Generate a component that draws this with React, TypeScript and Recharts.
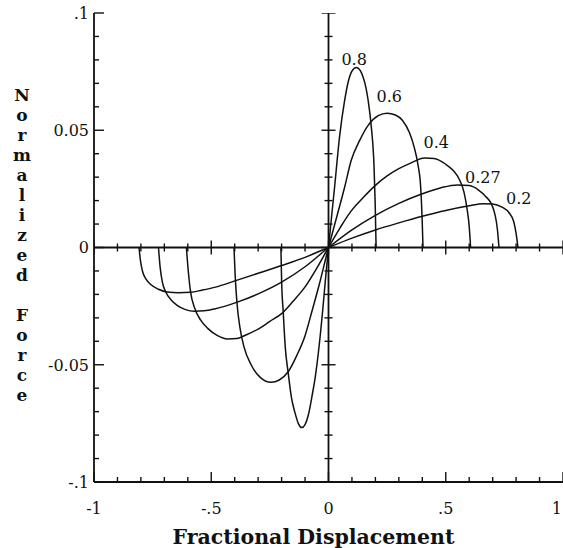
import React from 'react';
import {
  ComposedChart,
  Line,
  XAxis,
  YAxis,
  ReferenceLine,
  ReferenceDot,
  Scatter,
  Label,
} from 'recharts';

// ---------- data ----------
const seriesNames = ['0.8', '0.6', '0.4', '0.27', '0.2'];

const curve08: [number, number][] = [
  [-0.203, 0], [-0.2, -0.014], [-0.193, -0.0276], [-0.184, -0.043], [-0.172, -0.0533],
  [-0.158, -0.064], [-0.143, -0.0704], [-0.128, -0.0752], [-0.114, -0.0768], [-0.1, -0.0755],
  [-0.085, -0.071], [-0.07, -0.0632], [-0.057, -0.0556], [-0.04, -0.042], [-0.024, -0.026],
  [-0.012, -0.0125], [0, 0],
  [0.013, 0.013], [0.026, 0.0258], [0.047, 0.0471], [0.069, 0.0628], [0.085, 0.071],
  [0.1, 0.0752], [0.119, 0.0768], [0.135, 0.0755], [0.147, 0.0728], [0.16, 0.068],
  [0.169, 0.0628], [0.183, 0.051], [0.194, 0.035], [0.199, 0.019], [0.203, 0],
];

const curve06: [number, number][] = [
  [-0.403, 0], [-0.398, -0.012], [-0.39, -0.024], [-0.378, -0.034], [-0.36, -0.0425],
  [-0.33, -0.05], [-0.29, -0.0555], [-0.245, -0.0575], [-0.21, -0.0565], [-0.172, -0.053],
  [-0.135, -0.046], [-0.1, -0.0376], [-0.07, -0.027], [-0.04, -0.016], [0, 0],
  [0.035, 0.013], [0.069, 0.0258], [0.097, 0.0372], [0.133, 0.0457], [0.169, 0.0521],
  [0.212, 0.0562], [0.25, 0.0573], [0.285, 0.0565], [0.315, 0.0543], [0.345, 0.049],
  [0.365, 0.0429], [0.382, 0.035], [0.393, 0.0258], [0.399, 0.013], [0.403, 0],
];

const curve04: [number, number][] = [
  [-0.606, 0], [-0.598, -0.01], [-0.588, -0.019], [-0.572, -0.0255], [-0.545, -0.031],
  [-0.515, -0.0345], [-0.475, -0.0375], [-0.43, -0.039], [-0.39, -0.0388], [-0.35, -0.0372],
  [-0.3, -0.0348], [-0.25, -0.0315], [-0.2, -0.0282], [-0.15, -0.0228], [-0.1, -0.0168],
  [-0.05, -0.0088], [0, 0],
  [0.05, 0.0085], [0.093, 0.0151], [0.15, 0.0215], [0.2, 0.0265], [0.25, 0.0305],
  [0.3, 0.0336], [0.35, 0.036], [0.41, 0.0382], [0.45, 0.038], [0.5, 0.0355],
  [0.53, 0.033], [0.558, 0.029], [0.578, 0.0235], [0.59, 0.017], [0.6, 0.009], [0.606, 0],
];

const curve027: [number, number][] = [
  [-0.725, 0], [-0.718, -0.0084], [-0.708, -0.015], [-0.694, -0.019], [-0.67, -0.0225],
  [-0.644, -0.0248], [-0.61, -0.0265], [-0.572, -0.0272], [-0.53, -0.027], [-0.486, -0.0262],
  [-0.44, -0.025], [-0.386, -0.0232], [-0.3, -0.0198], [-0.2, -0.0148], [-0.1, -0.0082], [0, 0],
  [0.1, 0.0075], [0.2, 0.0137], [0.3, 0.0188], [0.4, 0.0229], [0.48, 0.0255],
  [0.55, 0.0267], [0.6, 0.0264], [0.64, 0.0245], [0.67, 0.0218], [0.694, 0.0187],
  [0.71, 0.014], [0.72, 0.008], [0.727, 0],
];

const curve02: [number, number][] = [
  [-0.808, 0], [-0.802, -0.0055], [-0.794, -0.0098], [-0.778, -0.0135], [-0.758, -0.0158],
  [-0.725, -0.0178], [-0.687, -0.019], [-0.64, -0.0193], [-0.587, -0.0191], [-0.54, -0.0182],
  [-0.486, -0.017], [-0.386, -0.0138], [-0.3, -0.011], [-0.2, -0.0077], [-0.1, -0.0042], [0, 0],
  [0.1, 0.004], [0.2, 0.0075], [0.3, 0.0105], [0.4, 0.0133], [0.5, 0.0158],
  [0.6, 0.0178], [0.66, 0.0187], [0.7, 0.0186], [0.74, 0.0172], [0.77, 0.0148],
  [0.79, 0.011], [0.8, 0.006], [0.808, 0],
];

// label anchor positions (data units) for each curve name
const curveLabelX = [0.055, 0.205, 0.405, 0.582, 0.757];
const curveLabelY = [0.0778, 0.062, 0.0423, 0.0274, 0.0184];

const xTicks = [
  -1, -0.9, -0.8, -0.7, -0.6, -0.5, -0.4, -0.3, -0.2, -0.1, 0,
  0.1, 0.2, 0.3, 0.4, 0.5, 0.6, 0.7, 0.8, 0.9, 1,
];
const xMajorTicks = [-1, -0.5, 0, 0.5, 1];
const xTickLabels = ['-1', '-.5', '0', '.5', '1'];

const yTicks = [
  -0.1, -0.09, -0.08, -0.07, -0.06, -0.05, -0.04, -0.03, -0.02, -0.01, 0,
  0.01, 0.02, 0.03, 0.04, 0.05, 0.06, 0.07, 0.08, 0.09, 0.1,
];
const yMajorTicks = [-0.1, -0.05, 0, 0.05, 0.1];
const yTickLabels = ['-.1', '-0.05', '0', '0.05', '.1'];

const xTitle = 'Fractional Displacement';
const yTitle = 'Normalized Force';

// ---------- helpers ----------
const INK = '#111';
const FONT = '"DejaVu Serif", "Liberation Serif", serif';

const majorIndex = (majors: number[], v: number) =>
  majors.findIndex((m) => Math.abs(m - v) < 1e-9);

const toRows = (pts: [number, number][]) => pts.map(([x, y]) => ({ x, y }));
const curves = [curve08, curve06, curve04, curve027, curve02].map(toRows);

const xAxisCenterTicks = xTicks.map((v) => ({ x: v, y: 0 }));
const yAxisCenterTicks = yTicks.map((v) => ({ x: 0, y: v }));

const BottomTick = (props: any) => {
  const { x, y, payload } = props;
  const i = majorIndex(xMajorTicks, payload.value);
  const len = i >= 0 ? 10 : 5;
  const last = i === xMajorTicks.length - 1;
  return (
    <g>
      <line x1={x} x2={x} y1={y} y2={y - len} stroke={INK} strokeWidth={1.4} />
      {i >= 0 && (
        <text
          x={last ? x - 1 : x}
          y={y + 32}
          textAnchor={last ? 'end' : 'middle'}
          fontFamily={FONT}
          fontSize={16}
          fill={INK}
        >
          {xTickLabels[i]}
        </text>
      )}
    </g>
  );
};

const TopTick = (props: any) => {
  const { x, y, payload } = props;
  const i = majorIndex(xMajorTicks, payload.value);
  const len = i >= 0 ? 10 : 5;
  return <line x1={x} x2={x} y1={y} y2={y + len} stroke={INK} strokeWidth={1.4} />;
};

const LeftTick = (props: any) => {
  const { x, y, payload } = props;
  const i = majorIndex(yMajorTicks, payload.value);
  const len = i >= 0 ? 10 : 5;
  return (
    <g>
      <line x1={x} x2={x + len} y1={y} y2={y} stroke={INK} strokeWidth={1.4} />
      {i >= 0 && (
        <text x={x - 5} y={y} dy="0.36em" textAnchor="end" fontFamily={FONT} fontSize={16} fill={INK}>
          {yTickLabels[i]}
        </text>
      )}
    </g>
  );
};

const RightTick = (props: any) => {
  const { x, y, payload } = props;
  const i = majorIndex(yMajorTicks, payload.value);
  const len = i >= 0 ? 9 : 4;
  return <line x1={x} x2={x - len} y1={y} y2={y} stroke={INK} strokeWidth={1.4} />;
};

const XCrossTick = (props: any) => {
  const { cx, cy, payload } = props;
  const h = majorIndex(xMajorTicks, payload.x) >= 0 ? 7 : 4;
  return <line x1={cx} x2={cx} y1={cy - h} y2={cy + h} stroke={INK} strokeWidth={1.4} />;
};

const YCrossTick = (props: any) => {
  const { cx, cy, payload } = props;
  const h = majorIndex(yMajorTicks, payload.y) >= 0 ? 7 : 4;
  return <line x1={cx - h} x2={cx + h} y1={cy} y2={cy} stroke={INK} strokeWidth={1.4} />;
};

const XTitle = (props: any) => {
  const vb = props.viewBox;
  return (
    <text
      x={vb.x + vb.width / 2 - 15}
      y={vb.y + 62}
      textAnchor="middle"
      fontFamily={FONT}
      fontWeight="bold"
      fontSize={20.5}
      fill={INK}
    >
      {xTitle}
    </text>
  );
};

const YTitle = (props: any) => {
  const vb = props.viewBox;
  const chars = yTitle.split('');
  return (
    <g>
      {chars.map((c, i) =>
        c === ' ' ? null : (
          <text
            key={i}
            x={22}
            y={vb.y + 88 + i * 20}
            textAnchor="middle"
            fontFamily={FONT}
            fontWeight="bold"
            fontSize={17}
            fill={INK}
          >
            {c}
          </text>
        )
      )}
    </g>
  );
};

const curveLabel = (text: string) => (props: any) => {
  const vb = props.viewBox;
  return (
    <text x={vb.x} y={vb.y} fontFamily={FONT} fontSize={16} fill={INK}>
      {text}
    </text>
  );
};

export default function App() {
  return (
    <div style={{ position: 'absolute', left: 0, top: 0, width: 563, height: 548, background: '#fff' }}>
      <ComposedChart width={563} height={548} margin={{ top: 13, right: 0, bottom: 0, left: 0 }}>
        <XAxis
          type="number"
          dataKey="x"
          domain={[-1, 1]}
          ticks={xTicks}
          interval={0}
          allowDataOverflow
          height={66}
          tickSize={0}
          tickMargin={0}
          tickLine={false}
          axisLine={{ stroke: INK, strokeWidth: 1.8 }}
          tick={BottomTick}
        >
          <Label content={XTitle} />
        </XAxis>
        <XAxis
          xAxisId="top"
          orientation="top"
          type="number"
          dataKey="x"
          domain={[-1, 1]}
          ticks={xTicks}
          interval={0}
          allowDataOverflow
          height={0}
          tickSize={0}
          tickMargin={0}
          tickLine={false}
          axisLine={{ stroke: INK, strokeWidth: 1.8 }}
          tick={TopTick}
        />
        <YAxis
          type="number"
          domain={[-0.1, 0.1]}
          ticks={yTicks}
          interval={0}
          allowDataOverflow
          width={94}
          tickSize={0}
          tickMargin={0}
          tickLine={false}
          axisLine={{ stroke: INK, strokeWidth: 1.8 }}
          tick={LeftTick}
        >
          <Label content={YTitle} />
        </YAxis>
        <YAxis
          yAxisId="right"
          orientation="right"
          type="number"
          domain={[-0.1, 0.1]}
          ticks={yTicks}
          interval={0}
          allowDataOverflow
          width={0}
          tickSize={0}
          tickMargin={0}
          tickLine={false}
          axisLine={{ stroke: INK, strokeWidth: 1.8 }}
          tick={RightTick}
        />

        <ReferenceLine x={0} stroke={INK} strokeWidth={1.8} />
        <ReferenceLine y={0} stroke={INK} strokeWidth={1.8} />

        <Scatter data={xAxisCenterTicks} dataKey="y" shape={XCrossTick} isAnimationActive={false} />
        <Scatter data={yAxisCenterTicks} dataKey="y" shape={YCrossTick} isAnimationActive={false} />

        {curves.map((rows, i) => (
          <Line
            key={seriesNames[i]}
            data={rows}
            dataKey="y"
            type="monotone"
            stroke={INK}
            strokeWidth={1.5}
            dot={false}
            activeDot={false}
            isAnimationActive={false}
          />
        ))}

        {seriesNames.map((name, i) => (
          <ReferenceDot
            key={'lbl' + name}
            x={curveLabelX[i]}
            y={curveLabelY[i]}
            r={0}
            fill="none"
            stroke="none"
            label={curveLabel(name)}
          />
        ))}
      </ComposedChart>
    </div>
  );
}
